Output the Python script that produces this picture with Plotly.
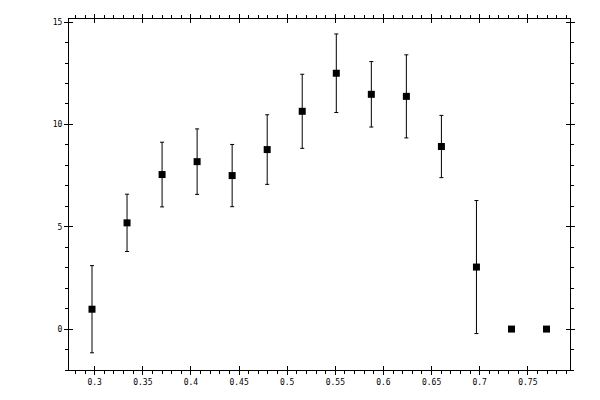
import plotly.graph_objects as go

x_vals = [0.2972, 0.3336, 0.3700, 0.4064, 0.4428, 0.4792, 0.5156,
          0.5510, 0.5874, 0.6238, 0.6602, 0.6966, 0.7330, 0.7694]
y_vals = [0.97, 5.19, 7.55, 8.18, 7.50, 8.77, 10.64,
          12.50, 11.47, 11.37, 8.92, 3.03, 0.0, 0.0]
y_err = [2.13, 1.40, 1.58, 1.60, 1.52, 1.70, 1.81,
         1.92, 1.60, 2.03, 1.52, 3.25, 0.0, 0.0]

x_range = [0.2733, 0.7938]
y_range = [-2.0, 15.15]

FONT = dict(family="DejaVu Sans Mono", size=8, color="black")

fig = go.Figure()

fig.add_trace(
    go.Scatter(
        x=x_vals,
        y=y_vals,
        mode="markers",
        marker=dict(symbol="square", size=7, color="black"),
        error_y=dict(type="data", array=y_err, visible=True,
                     color="black", thickness=1, width=2),
        showlegend=False,
    )
)
# dummy trace so the overlay axes (inner half of major ticks) get drawn
fig.add_trace(
    go.Scatter(x=[None], y=[None], xaxis="x2", yaxis="y2",
               showlegend=False, hoverinfo="skip")
)

axis_common = dict(
    showgrid=False,
    zeroline=False,
    showline=True,
    linecolor="black",
    linewidth=1,
    ticks="outside",
    ticklen=4,
    tickwidth=1,
    tickcolor="black",
    mirror="allticks",
    tickfont=FONT,
    automargin=False,
)

fig.update_layout(
    width=600,
    height=400,
    paper_bgcolor="white",
    plot_bgcolor="white",
    # page body adds ~8px offset, so shift margins to keep the plot box in place
    margin=dict(l=61, r=38, t=11, b=38),
    xaxis=dict(
        range=x_range,
        dtick=0.05,
        tick0=0.3,
        minor=dict(dtick=0.01, tick0=0.3, ticks="outside", ticklen=3,
                   tickcolor="black", tickwidth=1),
        **axis_common,
    ),
    yaxis=dict(
        range=y_range,
        dtick=5,
        tick0=0,
        minor=dict(dtick=1, tick0=0, ticks="outside", ticklen=3,
                   tickcolor="black", tickwidth=1),
        **axis_common,
    ),
    xaxis2=dict(
        range=x_range, dtick=0.05, tick0=0.3, overlaying="x",
        showgrid=False, zeroline=False, showline=False,
        ticks="inside", ticklen=4, tickcolor="black", mirror="ticks",
        showticklabels=False,
    ),
    yaxis2=dict(
        range=y_range, dtick=5, tick0=0, overlaying="y",
        showgrid=False, zeroline=False, showline=False,
        ticks="inside", ticklen=4, tickcolor="black", mirror="ticks",
        showticklabels=False,
    ),
)

fig.write_html("out.html")
